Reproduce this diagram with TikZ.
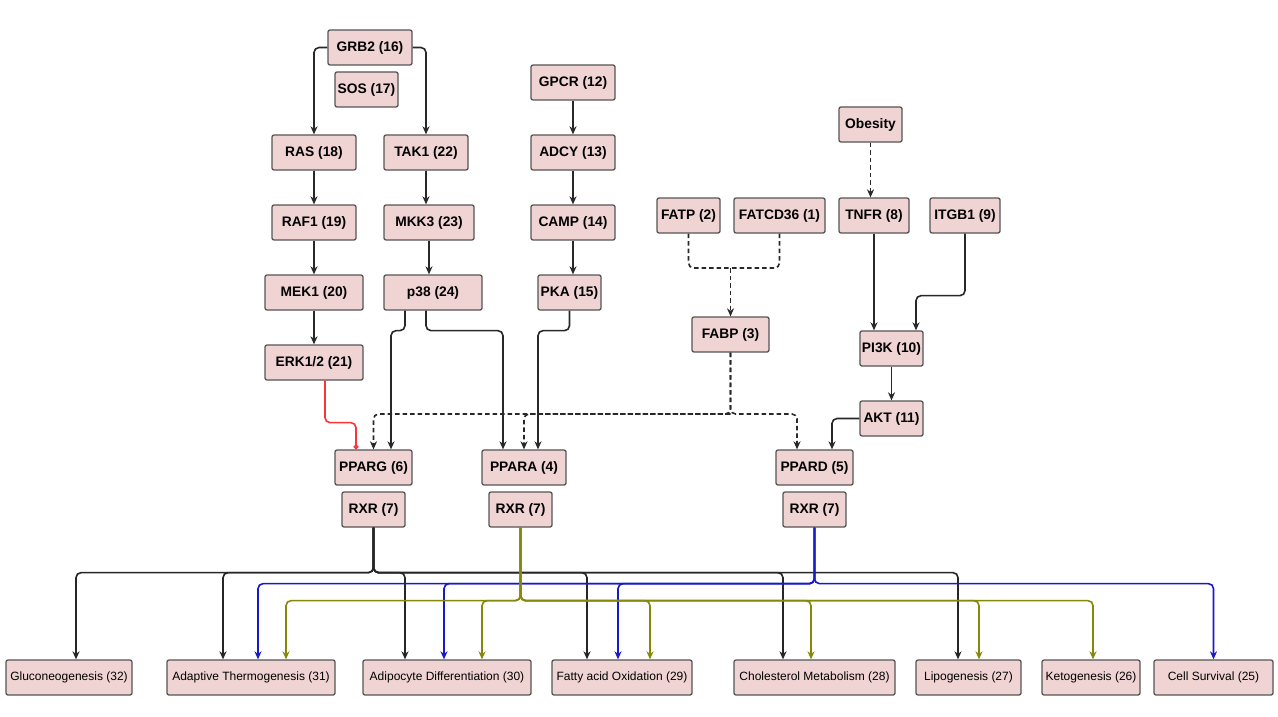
\documentclass[tikz,border=0pt]{standalone}
\usepackage{fontspec}
\setmainfont{Liberation Sans}
\usepackage{tikz}
\usetikzlibrary{arrows.meta}
\definecolor{nodefill}{RGB}{240,212,212}
\definecolor{nodeline}{RGB}{85,85,85}
\definecolor{edgegray}{RGB}{40,40,40}
\definecolor{rxrblue}{RGB}{25,25,204}
\definecolor{rxrolive}{RGB}{135,135,10}
\definecolor{erkred}{RGB}{255,51,51}

\begin{document}
\begin{tikzpicture}[
  x=1pt,y=-1pt,
  box/.style={draw=nodeline,line width=1.3pt,rounded corners=2pt,fill=nodefill,minimum height=35pt,inner sep=2pt,font=\fontsize{13.8}{16}\selectfont\bfseries},
  pbox/.style={box,font=\fontsize{12}{14}\selectfont},
  arr/.style={-{Stealth[length=8pt,width=7pt,inset=2.5pt]},line width=1.6pt,draw=edgegray,rounded corners=5pt},
  darr/.style={arr,dash pattern=on 4.5pt off 3pt},
  dline/.style={darr,-},
  kline/.style={arr,draw=black!85},
  bline/.style={arr,draw=rxrblue},
  oline/.style={arr,draw=rxrolive},
  rline/.style={arr,draw=erkred,-{Circle[open,length=5pt]}}
]
\path[use as bounding box,fill=white] (0,0) rectangle (1278,717);

% ---- MAPK branch (left) ----
\node[box,minimum width=84pt] (grb2) at (370,47.5)  {GRB2 (16)};
\node[box,minimum width=63pt] (sos)  at (366.5,89.5) {SOS (17)};
\node[box,minimum width=84pt] (ras)  at (314,152.5) {RAS (18)};
\node[box,minimum width=84pt] (tak1) at (426,152.5) {TAK1 (22)};
\node[box,minimum width=84pt] (raf1) at (314,222.5) {RAF1 (19)};
\node[box,minimum width=90pt] (mkk3) at (429,222.5) {MKK3 (23)};
\node[box,minimum width=98pt] (mek1) at (314,292.5) {MEK1 (20)};
\node[box,minimum width=98pt] (p38)  at (433,292.5) {p38 (24)};
\node[box,minimum width=98pt] (erk)  at (314,362.5) {ERK1/2 (21)};
\draw[arr] (grb2.west) -| (ras);
\draw[arr] (grb2.east) -| (tak1);
\draw[arr] (ras) -- (raf1);
\draw[arr] (raf1) -- (mek1);
\draw[arr] (mek1) -- (erk);
\draw[arr] (tak1) -- (tak1 |- mkk3.north);
\draw[arr] (mkk3) -- (mkk3 |- p38.north);

% ---- cAMP branch ----
\node[box,minimum width=84pt] (gpcr) at (573,82.5)  {GPCR (12)};
\node[box,minimum width=84pt] (adcy) at (573,152.5) {ADCY (13)};
\node[box,minimum width=84pt] (camp) at (573,222.5) {CAMP (14)};
\node[box,minimum width=63pt] (pka)  at (569.5,292.5) {PKA (15)};
\draw[arr] (gpcr) -- (adcy);
\draw[arr] (adcy) -- (camp);
\draw[arr] (camp) -- (camp |- pka.north);

% ---- fatty acid uptake ----
\node[box,minimum width=63pt] (fatp)  at (688.5,215.5) {FATP (2)};
\node[box,minimum width=91pt] (fatcd) at (779.5,215.5) {FATCD36 (1)};
\node[box,minimum width=77pt] (fabp)  at (730.5,334.5) {FABP (3)};
\coordinate (fa) at (730.5,268);
\draw[dline] (fatp) |- (fa);
\draw[dline] (fatcd) |- (fa);
\draw[darr] (fa) -- (fabp);

% ---- inflammation / integrin branch (right) ----
\node[box,minimum width=63pt] (obes)  at (870.5,124.5) {Obesity};
\node[box,minimum width=70pt] (tnfr)  at (874,215.5)   {TNFR (8)};
\node[box,minimum width=70pt] (itgb1) at (965,215.5)   {ITGB1 (9)};
\node[box,minimum width=63pt] (pi3k)  at (891.5,348.5) {PI3K (10)};
\node[box,minimum width=63pt] (akt)   at (891.5,418.5) {AKT (11)};
\draw[darr] (obes) -- (obes |- tnfr.north);
\draw[arr] (tnfr) -- (tnfr |- pi3k.north);
\draw[arr] (itgb1.south) -- ++(0,62) -| ([xshift=24.5pt]pi3k.north);
\draw[arr] (pi3k) -- (akt);

% ---- PPAR / RXR row ----
\node[box,minimum width=77pt] (pparg) at (373.5,467.5) {PPARG (6)};
\node[box,minimum width=84pt] (ppara) at (524,467.5)   {PPARA (4)};
\node[box,minimum width=77pt] (ppard) at (814.5,467.5) {PPARD (5)};
\node[box,minimum width=63pt] (rxrg)  at (373.5,509.5) {RXR (7)};
\node[box,minimum width=63pt] (rxra)  at (520.5,509.5) {RXR (7)};
\node[box,minimum width=63pt] (rxrd)  at (814.5,509.5) {RXR (7)};
\draw[rline] ([xshift=11pt]erk.south) -- ++(0,42) -| ([xshift=-17.5pt]pparg.north);
\draw[arr] ([xshift=-28pt]p38.south) -- ++(0,20) -| ([xshift=17.5pt]pparg.north);
\draw[arr] ([xshift=-7pt]p38.south) -- ++(0,20) -| ([xshift=-21pt]ppara.north);
\draw[arr] (pka.south) -- ++(0,20) -| ([xshift=14pt]ppara.north);
\coordinate (fj) at (730.5,414);
\draw[darr] (fabp) -- (fj) -| (pparg);
\draw[darr] (fj) -| (ppara);
\draw[darr] (fabp) -- (fj) -| ([xshift=-17.5pt]ppard.north);
\draw[arr] (akt.west) -| ([xshift=17.5pt]ppard.north);

% ---- outcomes (bottom) ----
\node[pbox,minimum width=126pt] (gluc)  at (69,677.5)     {Gluconeogenesis (32)};
\node[pbox,minimum width=168pt] (adapt) at (251,677.5)    {Adaptive Thermogenesis (31)};
\node[pbox,minimum width=168pt] (adipo) at (447,677.5)    {Adipocyte Differentiation (30)};
\node[pbox,minimum width=140pt] (fatty) at (622,677.5)    {Fatty acid Oxidation (29)};
\node[pbox,minimum width=161pt] (chol)  at (814.5,677.5)  {Cholesterol Metabolism (28)};
\node[pbox,minimum width=105pt] (lipo)  at (968.5,677.5)  {Lipogenesis (27)};
\node[pbox,minimum width=98pt]  (keto)  at (1091,677.5)   {Ketogenesis (26)};
\node[pbox,minimum width=119pt] (cell)  at (1213.5,677.5) {Cell Survival (25)};
% PPARG/RXR targets
\draw[kline] (rxrg.south) -- ++(0,45) -| ([xshift=7pt]gluc.north);
\draw[kline] (rxrg.south) -- ++(0,45) -| ([xshift=-28pt]adapt.north);
\draw[kline] (rxrg.south) -- ++(0,45) -| ([xshift=-42pt]adipo.north);
\draw[kline] (rxrg.south) -- ++(0,45) -| ([xshift=-35pt]fatty.north);
\draw[kline] (rxrg.south) -- ++(0,45) -| ([xshift=-31.5pt]chol.north);
\draw[kline] (rxrg.south) -- ++(0,45) -| ([xshift=-10.5pt]lipo.north);
% PPARD/RXR targets
\draw[bline] (rxrd.south) -- ++(0,56) -| ([xshift=7pt]adapt.north);
\draw[bline] (rxrd.south) -- ++(0,56) -| ([xshift=-3pt]adipo.north);
\draw[bline] (rxrd.south) -- ++(0,56) -| ([xshift=-4pt]fatty.north);
\draw[bline] (rxrd.south) -- ++(0,56) -| (cell.north);
% PPARA/RXR targets
\draw[oline] (rxra.south) -- ++(0,73) -| ([xshift=35pt]adapt.north);
\draw[oline] (rxra.south) -- ++(0,73) -| ([xshift=35pt]adipo.north);
\draw[oline] (rxra.south) -- ++(0,73) -| ([xshift=28pt]fatty.north);
\draw[oline] (rxra.south) -- ++(0,73) -| ([xshift=-3.5pt]chol.north);
\draw[oline] (rxra.south) -- ++(0,73) -| ([xshift=10.5pt]lipo.north);
\draw[oline] (rxra.south) -- ++(0,73) -| ([xshift=2pt]keto.north);
\end{tikzpicture}
\end{document}
